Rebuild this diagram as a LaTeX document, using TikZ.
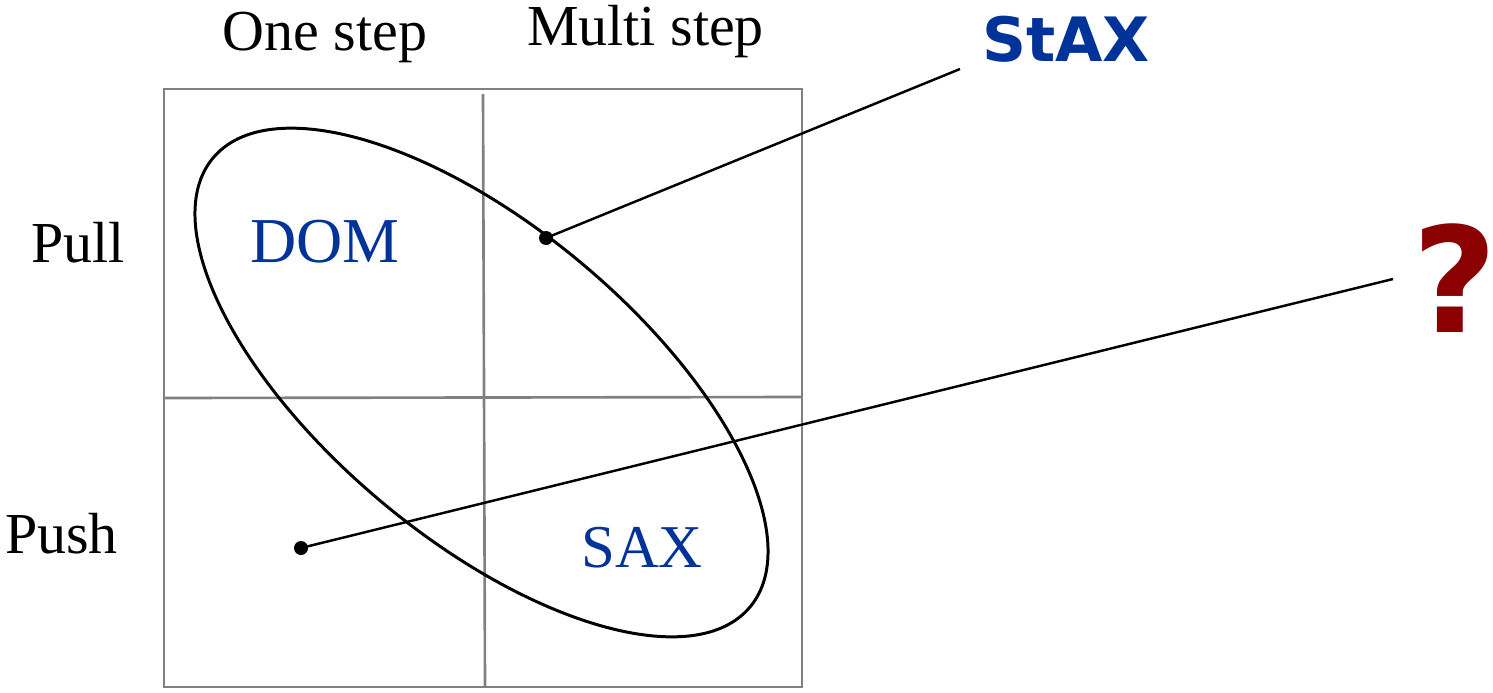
\documentclass[tikz,border=0pt]{standalone}
\usepackage{fontspec}
\setmainfont{Liberation Serif}
\newfontfamily\djsans{DejaVu Sans}
\definecolor{stblue}{HTML}{003399}
\definecolor{qred}{HTML}{8B0000}
\definecolor{gridgray}{HTML}{808080}
\begin{document}
\begin{tikzpicture}
\useasboundingbox (0,0) rectangle (14.93,6.92);
\tikzset{
  gridline/.style={draw=gridgray, line width=0.75pt},
  conn/.style={draw=black, line width=0.7pt},
  lbl/.style={inner sep=0pt, anchor=base, font=\fontsize{16.5}{18}\selectfont},
  blu/.style={inner sep=0pt, anchor=base, text=stblue},
  dotnode/.style={circle, fill=black, inner sep=0pt, minimum size=0.14cm}
}
% grid
\draw[gridline] (1.64,0.05) rectangle (8.02,6.03);
\draw[gridline] (4.83,5.98) -- (4.85,0.05);
\draw[gridline] (1.64,2.94) -- (8.02,2.95);
% ellipse
\draw[line width=0.85pt, rotate around={-39.9:(4.815,3.095)}] (4.815,3.095) ellipse [x radius=3.50, y radius=1.557];
% labels
\node[lbl] (one) at (3.25,6.42) {One step};
\node[lbl] (multi) at (6.455,6.47) {Multi step};
\node[lbl] (pull) at (0.78,4.30) {Pull};
\node[lbl] (push) at (0.615,1.39) {Push};
\node[blu, font=\fontsize{18.2}{20}\selectfont] (dom) at (3.25,4.30) {DOM};
\node[blu, font=\fontsize{17.3}{20}\selectfont] (sax) at (6.42,1.25) {SAX};
\node[blu, font=\djsans\bfseries\fontsize{17.4}{20}\selectfont] (stax) at (10.66,6.31) {StAX};
\node[inner sep=0pt, anchor=base west, text=qred, font=\djsans\bfseries\fontsize{41.7}{44}\selectfont] (q) at (14.12,3.60) {?};
% dots and connectors
\node[dotnode] (d1) at (5.46,4.54) {};
\node[dotnode] (d2) at (3.01,1.44) {};
\coordinate (e1) at (9.60,6.23);
\coordinate (e2) at (13.93,4.13);
\draw[conn] (d1.center) -- (e1);
\draw[conn] (d2.center) -- (e2);
\end{tikzpicture}
\end{document}
